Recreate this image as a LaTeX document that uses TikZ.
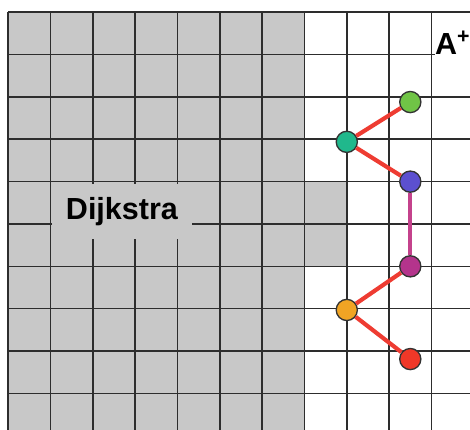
\documentclass[tikz,border=0pt]{standalone}
\usepackage{fontspec}
\setmainfont{Liberation Sans}
\usetikzlibrary{positioning}
\definecolor{cellgray}{RGB}{200,200,200}
\definecolor{gridline}{RGB}{45,45,45}
\definecolor{pathred}{RGB}{238,60,50}
\definecolor{pathpink}{RGB}{196,66,140}
\definecolor{ptgreen}{RGB}{112,196,70}
\definecolor{ptteal}{RGB}{32,184,140}
\definecolor{ptblue}{RGB}{92,80,208}
\definecolor{ptmagenta}{RGB}{180,52,140}
\definecolor{ptorange}{RGB}{240,164,36}
\definecolor{ptred}{RGB}{240,56,40}

\begin{document}
\begin{tikzpicture}[node distance=2cm,
  pt/.style={circle, draw=black!80, line width=0.9pt, minimum size=0.5cm, inner sep=0pt},
  link/.style={line width=2.8pt, pathred},
  tag/.style={font=\fontsize{20.5}{24}\selectfont\bfseries, inner sep=0pt}]
\useasboundingbox (-0.19,0.29) rectangle (10.91,-9.86);
\fill[cellgray] (0,0) rectangle (7,-9.86);
\fill[cellgray] (7,-4) rectangle (8,-6);
\draw[gridline, line width=1.1pt, step=1] (0,-9.86) grid (10.91,0);

\node (dijkstra) [tag, fill=cellgray, minimum width=3.3cm, minimum height=1.3cm] at (2.69,-4.70) {Dijkstra};
\node (goal) [tag, fill=white, minimum width=0.85cm, minimum height=1.3cm] at (10.5,-0.72) {A\textsuperscript{+}};

\node (green) [pt, fill=ptgreen] at (9.5,-2.12) {};
\node (teal) [pt, fill=ptteal] at (8,-3.06) {};
\node (blue) [pt, fill=ptblue] at (9.5,-4) {};
\node (magenta) [pt, fill=ptmagenta, below of=blue] {};
\node (orange) [pt, fill=ptorange] at (8,-7.03) {};
\node (red) [pt, fill=ptred] at (9.5,-8.19) {};

\draw[link] (green) -- (teal);
\draw[link] (teal) -- (blue);
\draw[link, pathpink] (blue) -- (magenta);
\draw[link] (magenta) -- (orange);
\draw[link] (orange) -- (red);
\end{tikzpicture}
\end{document}
